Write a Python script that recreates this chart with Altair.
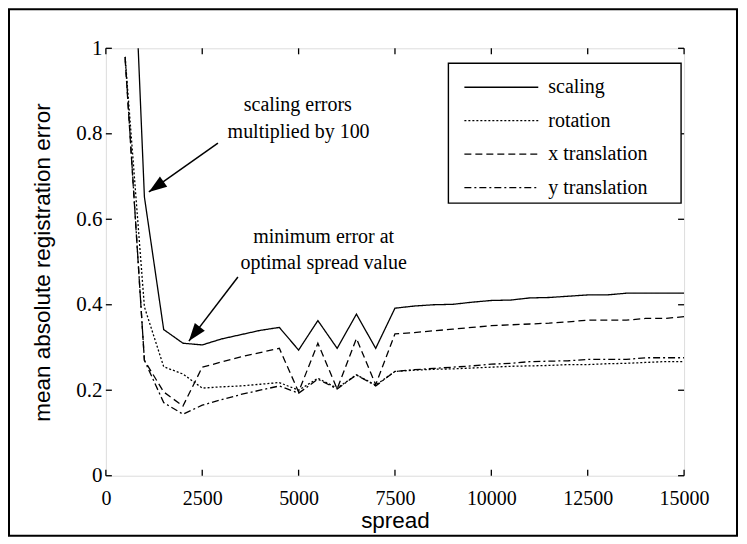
import math
import altair as alt
import pandas as pd

# ---------------- data ----------------
SPREAD = [500, 1000, 1500, 2000, 2500, 3000, 3500, 4000, 4500, 5000,
          5500, 6000, 6500, 7000, 7500, 8000, 8500, 9000, 9500, 10000,
          10500, 11000, 11500, 12000, 12500, 13000, 13500, 14000, 14500, 15000]
SCALING = [1.73, 0.652, 0.342, 0.310, 0.306, 0.320, 0.330, 0.340, 0.347, 0.294,
           0.363, 0.298, 0.378, 0.298, 0.392, 0.397, 0.400, 0.401, 0.406, 0.410,
           0.411, 0.416, 0.417, 0.420, 0.423, 0.423, 0.427, 0.427, 0.427, 0.427]
ROTATION = [0.98, 0.395, 0.255, 0.238, 0.205, 0.208, 0.210, 0.214, 0.218, 0.200,
            0.228, 0.205, 0.236, 0.212, 0.244, 0.247, 0.249, 0.250, 0.252, 0.254,
            0.256, 0.257, 0.258, 0.260, 0.260, 0.262, 0.263, 0.265, 0.267, 0.267]
XTRANS = [0.975, 0.270, 0.196, 0.163, 0.254, 0.266, 0.278, 0.288, 0.298, 0.196,
          0.310, 0.203, 0.321, 0.213, 0.332, 0.335, 0.339, 0.343, 0.347, 0.351,
          0.353, 0.355, 0.357, 0.360, 0.364, 0.364, 0.364, 0.368, 0.368, 0.372]
YTRANS = [0.98, 0.270, 0.171, 0.144, 0.165, 0.178, 0.190, 0.200, 0.210, 0.193,
          0.226, 0.203, 0.236, 0.210, 0.244, 0.248, 0.251, 0.254, 0.257, 0.261,
          0.263, 0.267, 0.268, 0.269, 0.272, 0.272, 0.272, 0.276, 0.276, 0.276]
SERIES = ["scaling", "rotation", "x translation", "y translation"]

X_TICKS = [0, 2500, 5000, 7500, 10000, 12500, 15000]
Y_TICKS = [0, 0.2, 0.4, 0.6, 0.8, 1]

ANNOT_TEXT = ["scaling errors", "multiplied by  100", "minimum error at", "optimal spread value"]
ANNOT_X = [4980, 5000, 5650, 5650]
ANNOT_Y = [0.867, 0.804, 0.558, 0.498]

ARROW_FROM_X = [2907, 3426]
ARROW_FROM_Y = [0.778, 0.465]
ARROW_TO_X = [1116, 2154]
ARROW_TO_Y = [0.664, 0.315]

# ---------------- styles ----------------
W, H = 579, 428
XMAX, YMAX = 15000, 1
DASHES = [[1, 0], [2, 2], [7, 4], [7, 3, 2, 3]]
SERIF = "Liberation Serif, Times New Roman, Times, serif"
SANS = "Liberation Sans, Arial, Helvetica, sans-serif"
TICK = 6

df = pd.DataFrame({
    "spread": SPREAD * 4,
    "value": SCALING + ROTATION + XTRANS + YTRANS,
    "series": sum([[s] * len(SPREAD) for s in SERIES], []),
})

xs = alt.Scale(domain=[0, XMAX], nice=False, zero=False)
ys = alt.Scale(domain=[0, YMAX], nice=False, zero=False)
XT = "spread"
YT = "mean absolute registration error"

lines = alt.Chart(df).mark_line(clip=True, color="black", strokeWidth=1.3).encode(
    x=alt.X("spread:Q", scale=xs, title=XT,
            axis=alt.Axis(values=X_TICKS, format="d", labelFont=SERIF, labelFontSize=20,
                          labelPadding=13, labelColor="black", titleFont=SANS,
                          titleFontSize=22.5, titleFontWeight="normal", titleColor="black",
                          titleY=52, titleBaseline="alphabetic", domain=False, ticks=False,
                          grid=False, labelFlush=False)),
    y=alt.Y("value:Q", scale=ys, title=YT,
            axis=alt.Axis(values=Y_TICKS, format="~g", labelFont=SERIF, labelFontSize=21,
                          labelPadding=4, labelColor="black", titleFont=SANS,
                          titleFontSize=22.5, titleFontWeight="normal", titleColor="black",
                          titleX=-56, titleY=H / 2, titleAngle=270, titleAlign="center",
                          titleBaseline="alphabetic", domain=False, ticks=False, grid=False,
                          labelFlush=False)),
    strokeDash=alt.StrokeDash("series:N", scale=alt.Scale(domain=SERIES, range=DASHES),
                              legend=alt.Legend(title=None, orient="none", legendX=358, legendY=31,
                                                symbolType="stroke", symbolSize=74 * 74,
                                                symbolStrokeWidth=1.3, symbolStrokeColor="black",
                                                clipHeight=16, rowPadding=13.5, labelOffset=9,
                                                labelFont=SERIF, labelFontSize=20,
                                                labelColor="black", padding=0, symbolOffset=0,
                                                labelLimit=300)),
)

# inward tick marks
xt = pd.DataFrame({"spread": X_TICKS})
yt = pd.DataFrame({"value": Y_TICKS})
tick_b = alt.Chart(xt).mark_rule(color="black", strokeWidth=1.3).encode(
    x=alt.X("spread:Q", scale=xs, title=XT), y=alt.value(H), y2=alt.value(H - TICK))
tick_t = alt.Chart(xt).mark_rule(color="black", strokeWidth=1.3).encode(
    x=alt.X("spread:Q", scale=xs, title=XT), y=alt.value(0), y2=alt.value(TICK))
tick_l = alt.Chart(yt).mark_rule(color="black", strokeWidth=1.3).encode(
    y=alt.Y("value:Q", scale=ys, title=YT), x=alt.value(0), x2=alt.value(TICK))
tick_r = alt.Chart(yt).mark_rule(color="black", strokeWidth=1.3).encode(
    y=alt.Y("value:Q", scale=ys, title=YT), x=alt.value(W), x2=alt.value(W - TICK))

# annotations
ann = pd.DataFrame({"spread": ANNOT_X, "value": ANNOT_Y, "text": ANNOT_TEXT})
texts = alt.Chart(ann).mark_text(font=SERIF, fontSize=20, align="center", baseline="middle",
                                 color="black").encode(
    x=alt.X("spread:Q", scale=xs, title=XT), y=alt.Y("value:Q", scale=ys, title=YT), text="text:N")

angles = []
for fx, fy, tx, ty in zip(ARROW_FROM_X, ARROW_FROM_Y, ARROW_TO_X, ARROW_TO_Y):
    dx = (tx - fx) * W / XMAX
    dy = -(ty - fy) * H / YMAX
    angles.append(math.degrees(math.atan2(dx, -dy)) % 360)

arr = pd.DataFrame({"spread": ARROW_FROM_X, "value": ARROW_FROM_Y,
                    "spread2": ARROW_TO_X, "value2": ARROW_TO_Y, "angle": angles})
arrow_lines = alt.Chart(arr).mark_rule(color="black", strokeWidth=1.5).encode(
    x=alt.X("spread:Q", scale=xs, title=XT), y=alt.Y("value:Q", scale=ys, title=YT),
    x2="spread2:Q", y2="value2:Q")
arrow_heads = alt.Chart(arr).mark_point(shape="M0,0 L-0.7,2 L0.7,2 Z", size=324, filled=True,
                                        color="black", opacity=1, strokeWidth=0).encode(
    x=alt.X("spread2:Q", scale=xs, title=XT), y=alt.Y("value2:Q", scale=ys, title=YT),
    angle=alt.Angle("angle:Q", scale=None))

one = pd.DataFrame({"a": [0]})
legend_box = alt.Chart(one).mark_rect(fill="white", stroke="black", strokeWidth=1.4).encode(
    x=alt.value(343), x2=alt.value(576), y=alt.value(15), y2=alt.value(155))
outer = alt.Chart(one).mark_rect(fillOpacity=0, stroke="black", strokeWidth=2).encode(
    x=alt.value(-97), x2=alt.value(632), y=alt.value(-39), y2=alt.value(488))

chart = alt.layer(
    outer, lines, tick_b, tick_t, tick_l, tick_r, arrow_lines, arrow_heads, texts, legend_box
).properties(
    width=W, height=H,
    autosize=alt.AutoSizeParams(type="none"),
    padding={"left": 98, "top": 40, "right": 55, "bottom": 62},
).configure_view(
    stroke="black", strokeWidth=1.5
).configure(background="white")

chart.save("out.html", embed_options={"renderer": "svg", "actions": False})
